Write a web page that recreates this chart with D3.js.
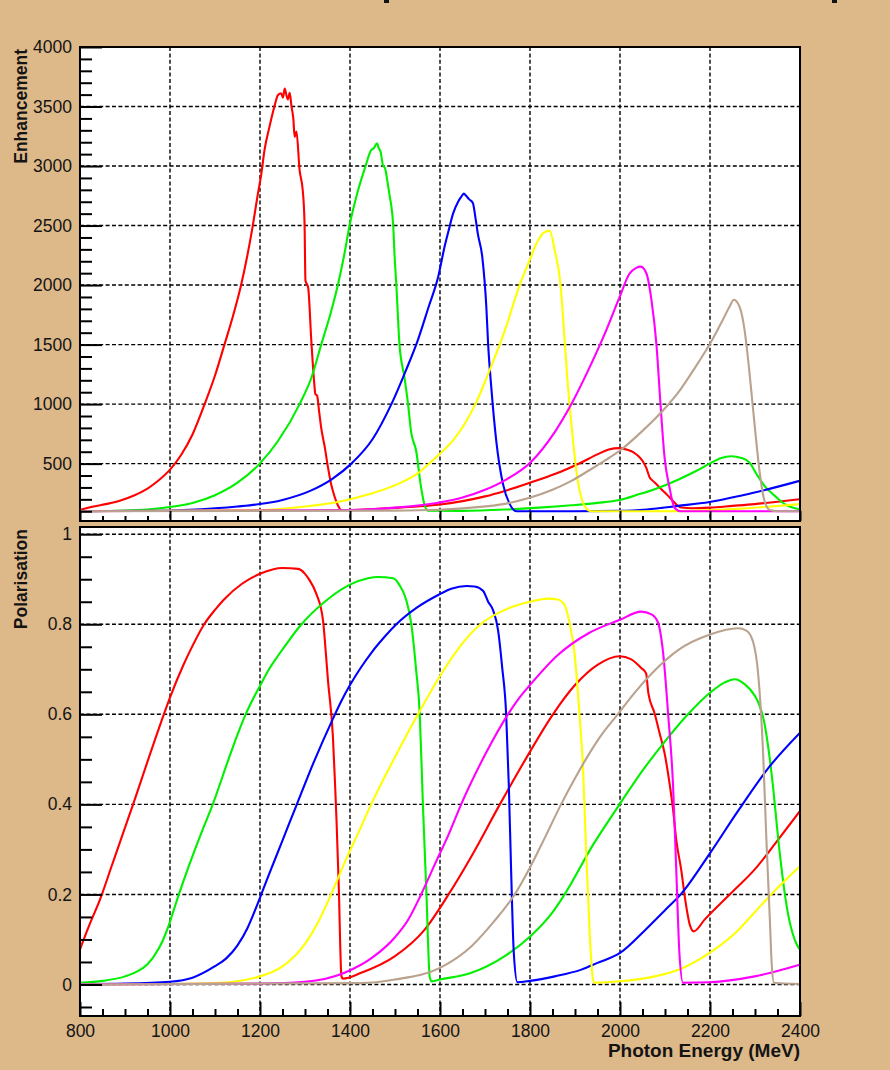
<!DOCTYPE html>
<html>
<head>
<meta charset="utf-8">
<script src="https://cdn.jsdelivr.net/npm/d3@7/dist/d3.min.js"></script>
<style>
  html, body { margin: 0; padding: 0; background: #ddb889; }
  svg { display: block; }
  .tick text { font-family: "Liberation Sans", Arial, Helvetica, sans-serif; fill: #141414; }
</style>
</head>
<body>
<svg id="chart" width="890" height="1070"></svg>
<script>
// Photon energy axis (MeV)
const energyMajor = [800, 1000, 1200, 1400, 1600, 1800, 2000, 2200, 2400];
const enhMajor = [500, 1000, 1500, 2000, 2500, 3000, 3500, 4000];
const polMajor = [0, 0.2, 0.4, 0.6, 0.8, 1];

// Enhancement spectra, [energy MeV, enhancement]
const enhRed = [[800,112],[830,140],[860,162],[890,190],[920,232],[950,290],[975,360],[1001,454],[1025,575],[1050,745],[1077,1000],[1100,1240],[1121,1500],[1140,1740],[1158,2000],[1172,2250],[1184,2500],[1195,2760],[1203,2937],[1210,3133],[1221,3329],[1232,3500],[1240,3596],[1247,3610],[1251,3575],[1255,3650],[1259,3590],[1262,3560],[1266,3615],[1270,3500],[1274,3400],[1277,3245],[1281,3290],[1288,2965],[1295,2796],[1299,2516],[1301,2039],[1307,1980],[1314,1534],[1320,1200],[1323,1085],[1327,1070],[1331,950],[1336,800],[1344,636],[1351,470],[1358,328],[1366,220],[1373,150],[1381,110],[1420,112],[1500,128],[1550,140],[1596,155],[1650,185],[1700,225],[1744,271],[1801,341],[1855,412],[1914,510],[1951,580],[1975,618],[1999,630],[2018,614],[2030,595],[2040,566],[2051,518],[2058,468],[2066,384],[2073,355],[2081,327],[2092,285],[2107,229],[2121,173],[2136,131],[2160,125],[2199,130],[2250,145],[2299,160],[2350,180],[2399,201]];
const enhGreen = [[800,100],[900,106],[950,115],[1000,135],[1050,170],[1100,235],[1150,340],[1199,498],[1240,690],[1288,1000],[1315,1230],[1336,1500],[1356,1750],[1373,2000],[1387,2250],[1399,2500],[1418,2796],[1434,2993],[1447,3133],[1453,3150],[1460,3190],[1464,3150],[1468,3120],[1473,3010],[1478,2980],[1484,2850],[1488,2754],[1496,2500],[1499,2250],[1503,2000],[1510,1500],[1521,1225],[1529,1000],[1536,762],[1547,608],[1558,299],[1566,150],[1573,105],[1650,103],[1750,115],[1820,130],[1892,150],[1950,170],[1999,195],[2040,240],[2077,285],[2129,365],[2170,440],[2199,500],[2225,548],[2247,562],[2270,548],[2288,508],[2303,415],[2321,313],[2344,229],[2366,160],[2399,116]];
const enhBlue = [[800,100],[1000,106],[1100,125],[1150,140],[1196,158],[1250,195],[1314,275],[1360,370],[1403,500],[1450,705],[1492,1000],[1525,1290],[1551,1540],[1575,1820],[1596,2070],[1610,2319],[1620,2470],[1629,2600],[1640,2698],[1647,2740],[1653,2768],[1658,2750],[1665,2720],[1673,2690],[1679,2560],[1684,2432],[1694,2235],[1703,1814],[1707,1500],[1714,1141],[1725,692],[1740,328],[1755,160],[1770,100],[1900,100],[2000,103],[2060,115],[2129,145],[2199,178],[2299,257],[2399,355]];
const enhYellow = [[800,100],[1200,110],[1300,140],[1373,178],[1440,240],[1507,330],[1551,420],[1573,490],[1599,580],[1630,700],[1655,835],[1680,1010],[1707,1254],[1744,1618],[1777,2000],[1799,2207],[1818,2376],[1833,2446],[1844,2455],[1855,2291],[1868,2000],[1877,1534],[1884,1169],[1892,832],[1903,440],[1914,215],[1929,110],[1937,100],[2100,100],[2250,118],[2330,138],[2399,160]];
const enhMagenta = [[800,100],[1400,110],[1500,130],[1596,172],[1650,215],[1700,280],[1744,360],[1801,510],[1855,765],[1892,1000],[1929,1281],[1966,1590],[1999,1898],[2021,2095],[2036,2145],[2046,2155],[2059,2095],[2070,1871],[2081,1500],[2090,1000],[2099,552],[2110,300],[2121,130],[2136,100],[2400,100]];
const enhTan = [[800,100],[1500,105],[1599,112],[1670,130],[1744,162],[1801,215],[1850,280],[1892,355],[1930,440],[1966,525],[2000,610],[2050,775],[2080,885],[2107,995],[2130,1100],[2150,1210],[2175,1355],[2199,1500],[2215,1610],[2230,1720],[2243,1815],[2253,1877],[2266,1814],[2277,1618],[2288,1254],[2299,832],[2310,440],[2321,188],[2333,110],[2350,100],[2400,100]];

// Linear polarisation, [energy MeV, polarisation]
const polRed = [[800,0.078],[820,0.13],[845,0.19],[870,0.262],[895,0.334],[918,0.40],[950,0.495],[981,0.585],[1001,0.64],[1030,0.71],[1050,0.752],[1076,0.80],[1100,0.832],[1120,0.855],[1160,0.89],[1200,0.912],[1250,0.925],[1285,0.923],[1300,0.912],[1310,0.898],[1325,0.868],[1340,0.809],[1346,0.74],[1351,0.676],[1362,0.551],[1367,0.44],[1370,0.366],[1375,0.218],[1381,0.018],[1384,0.013],[1425,0.026],[1500,0.063],[1566,0.122],[1619,0.2],[1670,0.285],[1733,0.40],[1790,0.50],[1851,0.60],[1900,0.665],[1950,0.71],[1999,0.729],[2025,0.722],[2047,0.703],[2058,0.691],[2063,0.647],[2077,0.602],[2088,0.558],[2099,0.514],[2110,0.447],[2118,0.388],[2125,0.321],[2136,0.255],[2145,0.188],[2155,0.133],[2164,0.118],[2188,0.144],[2247,0.203],[2299,0.255],[2351,0.321],[2399,0.384]];
const polGreen = [[800,0.004],[850,0.008],[900,0.018],[925,0.028],[950,0.045],[975,0.08],[985,0.10],[995,0.125],[1005,0.155],[1018,0.195],[1050,0.285],[1075,0.35],[1095,0.40],[1130,0.50],[1150,0.555],[1166,0.595],[1185,0.635],[1200,0.663],[1220,0.70],[1240,0.73],[1265,0.765],[1288,0.795],[1350,0.855],[1400,0.888],[1440,0.902],[1462,0.905],[1496,0.902],[1510,0.887],[1525,0.854],[1536,0.802],[1547,0.698],[1555,0.601],[1562,0.40],[1570,0.198],[1577,0.018],[1581,0.007],[1600,0.011],[1670,0.026],[1744,0.063],[1801,0.107],[1850,0.16],[1877,0.2],[1940,0.31],[1999,0.40],[2050,0.475],[2100,0.54],[2151,0.60],[2200,0.648],[2233,0.671],[2255,0.678],[2277,0.667],[2299,0.642],[2310,0.62],[2320,0.585],[2329,0.53],[2340,0.44],[2351,0.329],[2362,0.233],[2373,0.159],[2388,0.10],[2399,0.078]];
const polBlue = [[800,0.001],[900,0.002],[1000,0.006],[1050,0.015],[1099,0.04],[1125,0.058],[1150,0.087],[1172,0.125],[1185,0.155],[1199,0.19],[1215,0.232],[1231,0.272],[1256,0.335],[1281,0.398],[1320,0.495],[1362,0.59],[1380,0.628],[1400,0.665],[1425,0.705],[1450,0.74],[1475,0.77],[1503,0.80],[1550,0.838],[1596,0.865],[1625,0.879],[1659,0.885],[1677,0.884],[1696,0.874],[1707,0.85],[1718,0.831],[1729,0.787],[1738,0.706],[1747,0.601],[1753,0.44],[1758,0.255],[1764,0.07],[1772,0.005],[1800,0.008],[1855,0.018],[1914,0.033],[1950,0.048],[2000,0.07],[2055,0.12],[2100,0.165],[2135,0.2],[2199,0.29],[2262,0.385],[2329,0.48],[2399,0.558]];
const polYellow = [[800,0],[1000,0.001],[1100,0.003],[1200,0.018],[1250,0.04],[1300,0.09],[1330,0.14],[1358,0.2],[1390,0.275],[1420,0.34],[1447,0.40],[1500,0.505],[1551,0.60],[1600,0.685],[1640,0.745],[1690,0.80],[1744,0.832],[1800,0.85],[1840,0.857],[1862,0.855],[1877,0.842],[1888,0.802],[1899,0.735],[1910,0.60],[1918,0.477],[1925,0.292],[1933,0.107],[1940,0.011],[1944,0.004],[2000,0.007],[2077,0.018],[2136,0.035],[2199,0.07],[2262,0.12],[2299,0.16],[2336,0.2],[2399,0.262]];
const polMagenta = [[800,0],[1200,0.002],[1300,0.006],[1388,0.026],[1450,0.06],[1500,0.105],[1530,0.145],[1558,0.2],[1590,0.27],[1620,0.335],[1647,0.40],[1700,0.51],[1751,0.60],[1775,0.635],[1800,0.665],[1860,0.73],[1930,0.78],[2000,0.81],[2047,0.828],[2070,0.822],[2084,0.805],[2096,0.735],[2107,0.60],[2118,0.44],[2125,0.255],[2132,0.07],[2140,0.004],[2199,0.005],[2299,0.018],[2399,0.044]];
const polTan = [[800,0],[1425,0.003],[1500,0.011],[1600,0.037],[1670,0.085],[1720,0.14],[1766,0.2],[1800,0.26],[1835,0.33],[1869,0.40],[1900,0.458],[1930,0.51],[1960,0.556],[1995,0.60],[2030,0.645],[2070,0.69],[2130,0.743],[2200,0.777],[2262,0.791],[2281,0.786],[2296,0.76],[2307,0.69],[2318,0.514],[2325,0.33],[2333,0.144],[2337,0.048],[2342,0.004],[2400,0.001]];

const lineColors = ["#ff0000", "#00f000", "#0000ff", "#ffff00", "#ff00ff", "#b9a28e"];
const enhSeries = [enhRed, enhGreen, enhBlue, enhYellow, enhMagenta, enhTan];
const polSeries = [polRed, polGreen, polBlue, polYellow, polMagenta, polTan];

const svg = d3.select("#chart");
const left = 80, right = 800;
const x = d3.scaleLinear().domain([800, 2400]).range([left, right]);

const panels = [
  { top: 47, bottom: 521, domain: [18, 4000], major: enhMajor, minorStep: 100, series: enhSeries, title: "Enhancement", xLabels: false, id: "enh" },
  { top: 527, bottom: 1016, domain: [-0.07, 1.016], major: polMajor, minorStep: 0.05, series: polSeries, title: "Polarisation", xLabels: true, id: "pol" }
];

const energyMinor = d3.range(800, 2400.1, 50).filter(v => !energyMajor.includes(v));

// Fragments of the page header above the plot
svg.selectAll("rect.hdr").data([384, 832]).join("rect")
  .attr("class", "hdr").attr("x", d => d).attr("y", 0).attr("width", 5).attr("height", 3).attr("fill", "#111");

panels.forEach(p => {
  const y = d3.scaleLinear().domain(p.domain).range([p.bottom, p.top]);
  const g = svg.append("g");

  g.append("rect").attr("x", left).attr("y", p.top).attr("width", right - left).attr("height", p.bottom - p.top).attr("fill", "#fff");

  g.append("clipPath").attr("id", "clip-" + p.id).append("rect")
    .attr("x", left).attr("y", p.top).attr("width", right - left).attr("height", p.bottom - p.top);

  // dashed grid at the major ticks
  const grid = g.append("g").attr("stroke", "#000").attr("stroke-width", 1.4).attr("stroke-dasharray", "4,2.4");
  grid.selectAll("line.v").data(energyMajor.filter(v => v > 800 && v < 2400)).join("line")
    .attr("x1", d => x(d)).attr("x2", d => x(d)).attr("y1", p.top).attr("y2", p.bottom);
  grid.selectAll("line.h").data(p.major.filter(v => y(v) > p.top + 1)).join("line")
    .attr("y1", d => y(d)).attr("y2", d => y(d)).attr("x1", left).attr("x2", right);

  // curves
  const line = d3.line().x(d => x(d[0])).y(d => y(d[1])).curve(d3.curveMonotoneX);
  g.append("g").attr("clip-path", "url(#clip-" + p.id + ")")
    .selectAll("path").data(p.series).join("path")
    .attr("d", line).attr("fill", "none")
    .attr("stroke", (d, i) => lineColors[i]).attr("stroke-width", 2.1)
    .attr("stroke-linejoin", "round");

  // frame
  g.append("rect").attr("x", left).attr("y", p.top).attr("width", right - left).attr("height", p.bottom - p.top)
    .attr("fill", "none").attr("stroke", "#000").attr("stroke-width", 2);

  // left axis: major + minor ticks pointing inward
  const minorVals = d3.range(p.domain[0] < 0 ? -0.05 : 100, p.domain[1] + 1e-9, p.minorStep)
    .map(v => +v.toFixed(3))
    .filter(v => v >= p.domain[0] && !p.major.some(m => Math.abs(m - v) < 1e-6));
  const yMajorAxis = d3.axisLeft(y).tickValues(p.major).tickSizeInner(-22).tickSizeOuter(0).tickPadding(8)
    .tickFormat(d => p.id === "pol" ? d3.format("~g")(d) : d);
  const ya = g.append("g").attr("transform", `translate(${left},0)`).call(yMajorAxis);
  ya.select(".domain").remove();
  ya.selectAll("line").attr("stroke", "#000").attr("stroke-width", 2);
  ya.selectAll("text").attr("font-size", 17.5);
  const ym = g.append("g").attr("transform", `translate(${left},0)`)
    .call(d3.axisLeft(y).tickValues(minorVals).tickSizeInner(-12).tickSizeOuter(0).tickFormat(""));
  ym.select(".domain").remove();
  ym.selectAll("line").attr("stroke", "#000").attr("stroke-width", 2);

  // bottom axis
  const majLen = p.xLabels ? 14 : 10, minLen = p.xLabels ? 7 : 5;
  const xa = g.append("g").attr("transform", `translate(0,${p.bottom})`)
    .call(d3.axisBottom(x).tickValues(energyMajor).tickSizeInner(-majLen).tickSizeOuter(0).tickPadding(9)
      .tickFormat(p.xLabels ? d3.format("d") : ""));
  xa.select(".domain").remove();
  xa.selectAll("line").attr("stroke", "#000").attr("stroke-width", 2);
  xa.selectAll("text").attr("font-size", 17.5);
  const xm = g.append("g").attr("transform", `translate(0,${p.bottom})`)
    .call(d3.axisBottom(x).tickValues(energyMinor).tickSizeInner(-minLen).tickSizeOuter(0).tickFormat(""));
  xm.select(".domain").remove();
  xm.selectAll("line").attr("stroke", "#000").attr("stroke-width", 2);

  // axis title
  g.append("text")
    .attr("transform", `translate(27,${p.top + 2}) rotate(-90)`)
    .attr("text-anchor", "end")
    .attr("font-family", "Liberation Sans, Arial, sans-serif")
    .attr("font-weight", "bold").attr("font-size", 17.5).attr("fill", "#141414")
    .text(p.title);
});

svg.append("text")
  .attr("x", 800).attr("y", 1057).attr("text-anchor", "end")
  .attr("font-family", "Liberation Sans, Arial, sans-serif")
  .attr("font-weight", "bold").attr("font-size", 19).attr("fill", "#141414")
  .text("Photon Energy (MeV)");
</script>
</body>
</html>
